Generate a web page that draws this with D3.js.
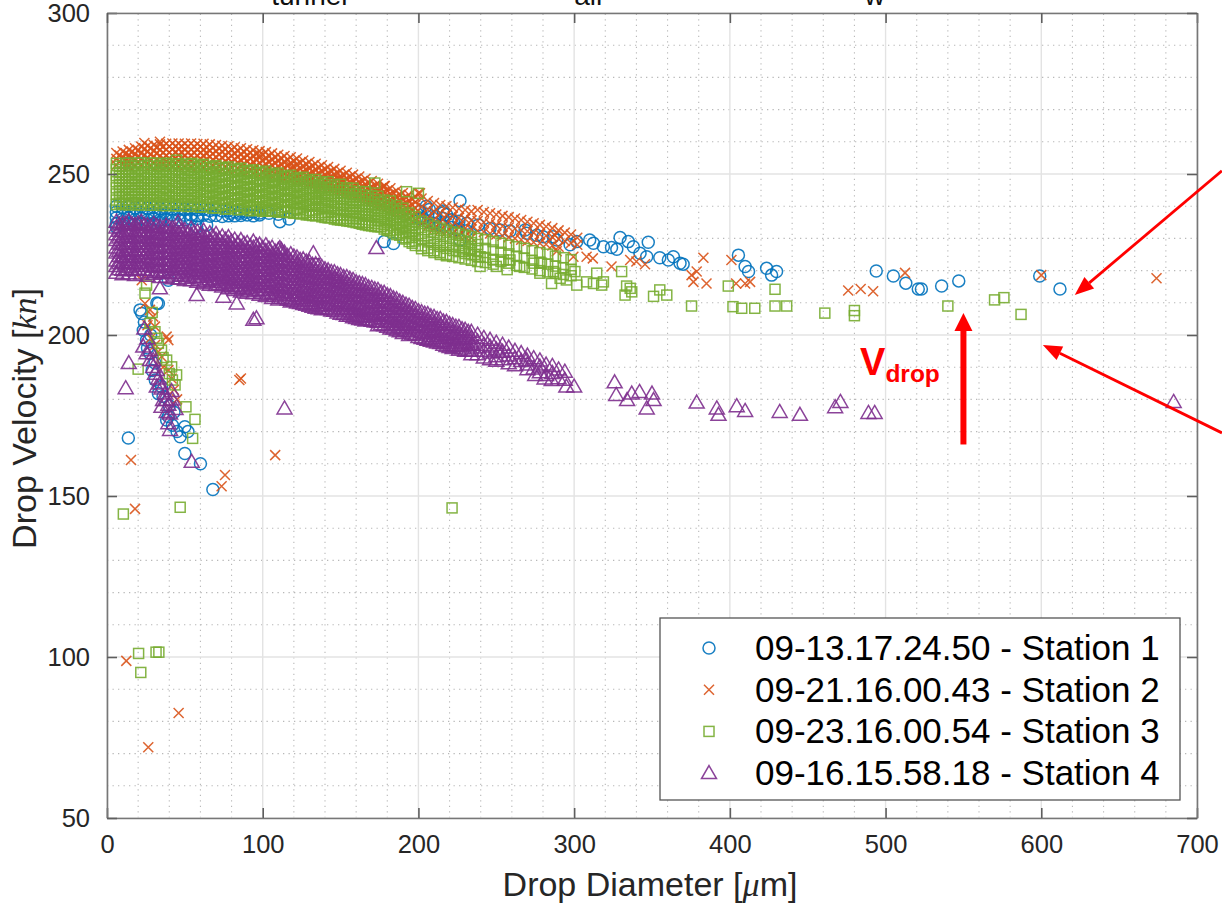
<!DOCTYPE html>
<html>
<head>
<meta charset="utf-8">
<script src="https://cdn.jsdelivr.net/npm/d3@7"></script>
<style>
  body { margin: 0; background: #fff; }
  svg { display: block; font-family: "Liberation Sans", Arial, Helvetica, sans-serif; }
</style>
</head>
<body>
<svg id="chart" width="1222" height="904"></svg>
<script>
// Chart geometry
const WIDTH = 1222;
const HEIGHT = 904;
const MARGIN = { left: 107, right: 25, top: 13, bottom: 86 };

const COLORS = ["#0072BD", "#D95319", "#77AC30", "#7E2F8E"];
const SHAPES = ["circle", "cross", "square", "triangle"];

// Tick values and labels
const xTicks = [0, 100, 200, 300, 400, 500, 600, 700];
const yTicks = [50, 100, 150, 200, 250, 300];
const legendLabels = [
  "09-13.17.24.50 - Station 1",
  "09-21.16.00.43 - Station 2",
  "09-23.16.00.54 - Station 3",
  "09-16.15.58.18 - Station 4"
];
const headerWords = [["tunnel", 130], ["air", 310], ["w", 493]];

// Dense bands: [diameter, velocity, velocity, ...]
const station1BandRows = [
  [6,240,238.2,236.4,234.6,233.5],[10,239.6,237.8,236,234.2],[14,240,238.1,236.3,234.5],
  [18,239.5,237.7,235.9,234.3],[22,239.8,238,236.2,234.6],[26,239.4,237.6,235.8,234.5],
  [30,239.6,237.8,236,234.8],[34,239.3,237.5,235.7,235],[38,239.4,237.6,235.8],
  [42,239.2,237.4,235.6],[46,239.3,237.5,235.8],[50,239,237.2,235.8],[54,239.1,237.3,236],
  [58,238.8,237,236.2],[62,239,237.2],[66,238.7,236.9],[70,238.8,237.1],[74,238.5,236.8],
  [78,238.6,237],[82,238.3,237],[86,238.4,237.1],[90,238.1,237.3],[94,238.2,237],
  [98,237.9,237.3],[104,237.8],[110,237.5],
  [201,238.4,236],[206,237.5,235.2],[211,236.8,234.5],[216,236.2,233.8],[221,235.8,233.4],
  [226,235.3,232.9],[231,234.7,232.4]
];
const station2BandRows = [
  [6,256.5,254.7,252.8],[10,257,255,253],[14,257.5,255.8,254,252.5],[18,258,256.2,254.3,252.6],
  [22,258.5,256.5,254.8,253],[26,258.8,257,255,253.2],[30,259,257.2,255.3,253.5],
  [34,259.2,257.5,255.6,253.8,252.5],[38,259.4,257.6,255.8,254,252.6],[42,259.5,257.6,255.7,253.9,252.5],
  [46,259.5,257.8,256,254.2,252.6],[50,259.4,257.5,255.6,253.8,252.5],[54,259.5,257.7,255.9,254,252.4],
  [58,259.3,257.5,255.6,253.7,252.2],[62,259.4,257.6,255.8,253.9,252.2],[66,259.2,257.3,255.4,253.5,252],
  [70,259,257.2,255.3,253.4,251.6],[74,258.8,257,255.1,253.2,251.5],[78,258.6,256.7,254.8,253,251.2],
  [82,258.3,256.5,254.6,252.7,251],[86,258,256.2,254.3,252.4,250.8],[90,257.7,255.8,254,252.1,250.6],
  [94,257.4,255.6,253.7,251.8,250.3],[98,257.1,255.2,253.4,251.5,250],[102,256.8,255,253.1,251.2,249.8],
  [106,256.4,254.5,252.7,250.8,249.5],[110,256,254.2,252.3,250.5,249.2],[114,255.6,253.7,251.9,250,248.8],
  [118,255.2,253.4,251.5,249.6,248.4],[122,254.8,253,251.1,249.2,248],[126,254.2,252.4,250.6,248.8,247.6],
  [130,253.7,251.9,250,248.2,247.2],[134,253.2,251.4,249.5,247.8,246.8],[138,252.7,250.9,249,247.3,246.3],
  [142,252.2,250.4,248.6,246.8,245.8],[146,251.6,249.8,248,246.2,245.3],[150,251,249.2,247.4,245.7,244.8],
  [154,250.4,248.6,246.8,245,244.2],[158,249.8,248,246.2,244.4,243.6],[162,249.2,247.4,245.6,243.8,243],
  [166,248.5,246.7,244.9,243.1,242.2],[170,247.8,246,244.2,242.4,241.5],[174,247,245.2,243.4,241.6,240.8],
  [178,246.3,244.5,242.7,240.9,240],[182,245.6,243.8,242,240.3,239],[186,244.8,243,241.2,239.5,238],
  [190,244.1,242.3,240.5,238.8,237.2],[194,243.5,241.7,239.9,238.1,236.4],[198,243,241.2,239.4,237.6,235.8],
  [202,242.4,239.8,237.2,234.6],[206,241.6,239,236.3,233.8],[210,241,238.4,235.7,233],
  [214,240.4,237.8,235,232.5],[218,240,237.3,234.6,232],[222,239.6,236.8,234,231.6],
  [226,239.2,236.4,233.6,231],[230,238.8,236,233.2,230.6],[234,238.4,235.6,232.8,230.2],
  [238,238.8,235.4,232.4],[242,238.2,235,232],[246,237.8,234.6,231.5],[250,237.4,234.2,231.2],
  [254,237,233.8,230.8],[258,236.6,233.4,230.4],[262,236.2,233,230],[266,235.7,232.6,229.6],
  [270,235.2,232.2,229.2],[274,234.7,231.8,228.8],[278,234.2,231.3,228.5],[282,233.7,230.8,228.2],
  [286,233.2,230.4,227.8],[290,232.5,229.8,227.4],[294,231.8,229.2],[298,231.2,228.6],[302,230.2,228]
];
const station2BandRowsInner = [
  [8,255.8,253.9],[12,256.4,254.5,252.7],[16,256.9,255,253.2],[20,257.4,255.4,253.5],
  [24,257.8,255.8,253.9],[28,258.1,256.1,254.2,252.5],[32,258.4,256.5,254.6,252.7],[36,258.5,256.6,254.7,252.9],
  [40,258.6,256.7,254.9,253],[44,258.7,256.8,254.9,253.1],[48,258.6,256.8,254.9,253],[52,258.6,256.7,254.8,253],
  [56,258.5,256.6,254.8,252.9],[60,258.5,256.6,254.7,252.8],[64,258.3,256.4,254.6,252.7],[68,258.1,256.2,254.4,252.5],
  [72,257.9,256,254.2,252.3],[76,257.7,255.8,254,252.1],[80,257.5,255.6,253.8,251.9],[84,257.2,255.3,253.5,251.7],
  [88,256.9,255,253.2,251.4],[92,256.6,254.8,252.9,251.1],[96,256.3,254.4,252.6,250.8],[100,256,254.1,252.3,250.5],
  [104,255.6,253.8,251.9,250.2],[108,255.2,253.4,251.6,249.8],[112,254.8,253,251.2,249.5],[116,254.4,252.6,250.8,249.1],
  [120,254,252.2,250.4,248.7],[124,253.5,251.7,249.9,248.2],[128,253,251.2,249.4,247.7],[132,252.5,250.7,248.9,247.2],
  [136,252,250.2,248.4,246.7],[140,251.5,249.7,247.9,246.2],[144,250.9,249.1,247.3,245.6],[148,250.3,248.5,246.7,245.1],
  [152,249.7,247.9,246.1,244.5],[156,249.1,247.3,245.5,243.9],[160,248.5,246.7,244.9,243.3],[164,247.8,246,244.2,242.6],
  [168,247.1,245.3,243.5,241.9],[172,246.4,244.6,242.8,241.2],[176,245.6,243.8,242,240.4],[180,244.9,243.1,241.3,239.6],
  [184,244.2,242.4,240.6,238.9],[188,243.5,241.7,239.9,238.1],[192,242.8,241,239.2,237.5],[196,242.2,240.4,238.6,236.8]
];
const station3BandRows = [
  [6,253.3,251.4,249.5,247.6,245.7,243.8,241.9,240.5],[10,252.4,250.5,248.6,246.7,244.8,242.9,241],
  [14,253.4,251.5,249.6,247.7,245.8,243.9,242,240.4],[18,252.5,250.6,248.7,246.8,244.9,243,241.1],
  [22,253.5,251.6,249.7,247.8,245.9,244,242.1,240.4],[26,252.6,250.7,248.8,246.9,245,243.1,241.2],
  [30,253.4,251.5,249.6,247.7,245.8,243.9,242,240.3],[34,252.5,250.6,248.7,246.8,244.9,243,241.1],
  [38,253.3,251.4,249.5,247.6,245.7,243.8,241.9,240.2],[42,252.4,250.5,248.6,246.7,244.8,242.9,241],
  [46,253.2,251.3,249.4,247.5,245.6,243.7,241.8,240.1],[50,252.3,250.4,248.5,246.6,244.7,242.8,240.9],
  [54,253.1,251.2,249.3,247.4,245.5,243.6,241.7,240],[58,252.2,250.3,248.4,246.5,244.6,242.7,240.8],
  [62,253,251.1,249.2,247.3,245.4,243.5,241.6,239.8],[66,252,250.1,248.2,246.3,244.4,242.5,240.6],
  [70,252.6,250.7,248.8,246.9,245,243.1,241.2,239.5],[74,251.8,249.9,248,246.1,244.2,242.3,240.4],
  [78,252.2,250.3,248.4,246.5,244.6,242.7,240.8,239.2],[82,251.4,249.5,247.6,245.7,243.8,241.9,240],
  [86,251.8,249.9,248,246.1,244.2,242.3,240.4,239],[90,251,249.1,247.2,245.3,243.4,241.5,239.6],
  [94,251.3,249.4,247.5,245.6,243.7,241.8,239.9,238.7],[98,250.5,248.6,246.7,244.8,242.9,241,239.1],
  [102,250.9,249,247.1,245.2,243.3,241.4,239.5,238.5],[106,250,248.1,246.2,244.3,242.4,240.5,238.6],
  [110,250.3,248.4,246.5,244.6,242.7,240.8,238.9,238.2],[114,249.4,247.5,245.6,243.7,241.8,239.9,238.2],
  [118,249.6,247.7,245.8,243.9,242,240.1,238.2],[122,248.8,246.9,245,243.1,241.2,239.3,237.9],
  [126,249,247.1,245.2,243.3,241.4,239.5,237.7],[130,248.2,246.3,244.4,242.5,240.6,238.7,237.3],
  [134,248.3,246.4,244.5,242.6,240.7,238.8,237],[138,247.5,245.6,243.7,241.8,239.9,238,236.7],
  [142,247.6,245.7,243.8,241.9,240,238.1,236.4],[146,246.6,244.7,242.8,240.9,239,237.1,236],
  [150,246.8,244.9,243,241.1,239.2,237.3,235.7],[154,245.7,243.8,241.9,240,238.1,236.2,235.4],
  [158,245.6,243.7,241.8,239.9,238,236.1,235.1],[162,244.6,242.7,240.8,238.9,237,235.1,234.7],
  [166,244.5,242.6,240.7,238.8,236.9,235,234.2],[170,243.3,241.4,239.5,237.6,235.7,233.9],
  [174,243.1,241.2,239.3,237.4,235.5,233.6],[178,241.9,240,238.1,236.2,234.3,232.9],
  [182,241.6,239.7,237.8,235.9,234,232.3],[186,240.2,238.3,236.4,234.5,232.6,231.2],
  [190,239.4,237.5,235.6,233.7,231.8,230.2],[194,237.9,236,234.1,232.2,230.3,229],
  [198,236.8,234.9,233,231.1,229.2,227.8],[202,235.3,233.4,231.5,229.6,227.7,226.8],
  [206,234.6,232.7,230.8,228.9,227,226.2],[210,233.8,231.9,230,228.1,226.2,225.6],
  [214,233.2,231.3,229.4,227.5,225.6,225],[218,232.6,230.7,228.8,226.9,225,224.6],
  [222,232,230.1,228.2,226.3,224.4],[226,231.6,229.7,227.8,225.9,224],[230,231,229.1,227.2,225.3,223.6],
  [234,230.6,228.7,226.8,224.9,223.2],[238,230,228.1,226.2,224.3,222.8],[243,229.6,226.9,224.1,222.5],
  [248,229,226.4,223.5,222],[253,228.5,225.7,222.8],[258,227.9,225.2,222.3],[263,227.4,224.5,221.6],
  [268,226.9,223.9,221],[273,226.2,223.2,220.5],[278,225.6,222.6,220],[283,225.1,222,219.6],
  [288,224.5,221.4,219.2],[293,224,220.9,218.8],[298,223.4,220.4,218.4]
];
const station3BandRowsInner = [
  [8,252.4,250.5,248.6,246.7,244.8,242.9,241],[12,253.3,251.4,249.5,247.6,245.7,243.8,241.9,240.5],
  [16,252.5,250.6,248.7,246.8,244.9,243,241.1],[20,253.4,251.5,249.6,247.7,245.8,243.9,242,240.4],
  [24,252.5,250.6,248.7,246.8,244.9,243,241.1],[28,253.3,251.4,249.5,247.6,245.7,243.8,241.9,240.3],
  [32,252.4,250.5,248.6,246.7,244.8,242.9,241],[36,253.2,251.3,249.4,247.5,245.6,243.7,241.8,240.2],
  [40,252.3,250.4,248.5,246.6,244.7,242.8,240.9],[44,253.1,251.2,249.3,247.4,245.5,243.6,241.7,240.1],
  [48,252.2,250.3,248.4,246.5,244.6,242.7,240.8],[52,253,251.1,249.2,247.3,245.4,243.5,241.6,239.9],
  [56,252.1,250.2,248.3,246.4,244.5,242.6,240.7],[60,252.7,250.8,248.9,247,245.1,243.2,241.3,239.7],
  [64,251.9,250,248.1,246.2,244.3,242.4,240.5],[68,252.3,250.4,248.5,246.6,244.7,242.8,240.9,239.4],
  [72,251.6,249.7,247.8,245.9,244,242.1,240.2],[76,251.9,250,248.1,246.2,244.3,242.4,240.5,239.1],
  [80,251.2,249.3,247.4,245.5,243.6,241.7,239.8],[84,251.4,249.5,247.6,245.7,243.8,241.9,240,238.9],
  [88,250.7,248.8,246.9,245,243.1,241.2,239.3],[92,250.9,249,247.1,245.2,243.3,241.4,239.5,238.6],
  [96,250.2,248.3,246.4,244.5,242.6,240.7,238.8],[100,250.4,248.5,246.6,244.7,242.8,240.9,239,238.4],
  [104,249.6,247.7,245.8,243.9,242,240.1,238.5],[108,249.8,247.9,246,244.1,242.2,240.3,238.4],
  [112,249,247.1,245.2,243.3,241.4,239.5,238.2],[116,249.1,247.2,245.3,243.4,241.5,239.6,238],
  [120,248.3,246.4,244.5,242.6,240.7,238.8,237.8],[124,248.4,246.5,244.6,242.7,240.8,238.9,237.6],
  [128,247.6,245.7,243.8,241.9,240,238.1,237.3],[132,247.6,245.7,243.8,241.9,240,238.1,237.1],
  [136,246.8,244.9,243,241.1,239.2,237.3],[140,246.8,244.9,243,241.1,239.2,237.3,236.5],
  [144,245.9,244,242.1,240.2,238.3,236.4],[148,245.8,243.9,242,240.1,238.2,236.3,235.8],
  [152,244.9,243,241.1,239.2,237.3,235.6],[156,244.7,242.8,240.9,239,237.1,235.3],
  [160,243.8,241.9,240,238.1,236.2,234.9],[164,243.5,241.6,239.7,237.8,235.9,234.4],
  [168,242.5,240.6,238.7,236.8,234.9,234],[172,242.2,240.3,238.4,236.5,234.6,233.7],
  [176,241.2,239.3,237.4,235.5,233.6],[180,240.6,238.7,236.8,234.9,233,232.5],
  [184,239.2,237.3,235.4,233.5,231.7],[188,238.6,236.7,234.8,232.9,231],
  [192,237.2,235.3,233.4,231.5,229.8],[196,236,234.1,232.2,230.3,228.5]
];
const station4BandRows = [
  [6,235.2,233.4,231.3,229.5,227.2,225.6,223.1,221.4,219.3],[10,234.6,232.3,230.6,228.2,226.5,224.2,222.6,220.3,218.9],
  [14,235.4,233.1,231.5,229.1,227.4,225.2,223.4,221.1,219.2],[18,234.2,232.2,230.4,228.4,226.1,224.5,222.2,220.4,218.6],
  [22,235.1,233.4,231.1,229.2,227.5,225.3,223.1,221.5,219.1],[26,234.1,232.1,230.2,228.5,226.4,224.1,222.5,220.2,218.4],
  [30,234.5,232.6,230.4,229,227,225.1,223,221.2,219],[34,233.6,231.5,229.6,227.4,225.6,223.5,221.4,219.6,218],
  [38,234,232.1,230,228.1,226,224.1,222,220.1,218.1],[42,233.2,231.1,229.5,227.4,225.2,223.1,221.1,219.4,217.6],
  [46,233.4,231.6,229.1,227.1,225.5,223.6,221.5,219.2,217.5],[50,232.6,230.5,228.6,226.4,224.6,222.5,220.6,218.5,217.1],
  [54,233,231.1,229,227.1,225,223.1,221,219.1,217],[58,232.1,230.1,228.1,226.1,224.1,222.1,220.1,218.1,216.5],
  [62,232.4,230.5,228.4,226.6,224.4,222.1,220.1,218.1,216.1],[66,231.6,229.5,227.6,225.4,223.6,221.5,219.6,217.4,215.6],
  [70,231.4,229.6,227.1,225.1,223.1,221.1,219.1,217.1,215.5],[74,230.6,228.5,226.6,224.4,222.6,220.4,218.6,216.5,215.1],
  [78,230.4,228.6,226.1,224.1,222.1,220.1,218.1,216.1,214.5],[82,229.6,227.5,225.6,223.5,221.4,219.6,217.5,215.4,214],
  [86,229.5,227.4,225.6,223.1,221.1,219.1,217.1,215.1,213.5],[90,228.6,226.6,224.4,222.6,220.5,218.4,216.6,214.5,213.1],
  [94,229,227.1,225,223.1,221,219.1,217,215.1,213],[98,228.1,226,224.1,222,220.1,218,216.1,214,212.5],
  [102,227.9,226.1,224,222.1,220,218.1,216,214.1,212.1],[106,227.1,225,223.1,221,219.1,217,215.1,213,211.5],
  [110,226.5,224.6,222.4,220.5,218.6,216.4,214.5,212.6,211],[114,225.6,223.5,221.6,219.4,217.5,215.6,213.4,211.5],
  [118,225.1,223,221.1,219,217.1,215,213.1,211,210.4],[122,224.1,222.1,220,218.1,216,214.1,212,210.1],
  [126,223.5,221.4,219.6,217.5,215.4,213.6,211.5,209.6],[130,222.6,220.5,218.4,216.6,214.5,212.4,210.6,209.1],
  [134,222,220.1,218,216.1,214,212.1,210,208.5],[138,221.1,219,217.1,215,213.1,211,209.1,208],
  [142,220.1,218,216.1,214,212.1,210,208.1],[146,219.5,217.6,215.4,213.5,211.6,209.4,207.5],
  [150,218.6,216.5,214.4,212.6,210.5,208.4,206.6],[154,218,216.1,214,212.1,210,208.1,206],
  [158,217.1,215,213.1,211,209.1,207,205.5],[162,216.1,214,212.1,210,208.1,206,205],
  [166,215.5,213.4,211.6,209.5,207.4,205.6,204.5],[170,214.6,212.5,210.4,208.6,206.5,204.4],
  [174,214,212.1,210,208.1,206,204.1,203],[178,213.1,211,209.1,207,205.1,203],
  [182,212.1,210,208.1,206,204.1,202],[186,211.1,209,207.1,205,203.1,201.5],
  [190,210,208.1,206,204.1,202,200.6],[194,209.1,207,205.1,203,201.1,200],
  [198,208.1,206,204.1,202,200.1],[202,207.1,205,203.1,201,199.1],[206,206.5,204.4,202.6,200.5,198.6],
  [210,205.6,203.5,201.4,199.6,198],[214,205,203.1,201,199.1,197.5],[218,204.1,202,200.1,198,196.6],
  [222,203.1,201,199.1,197,196],[226,202.5,200.4,198.6,196.5,195.4],[230,201.6,199.5,197.4,195.1],
  [234,201,199.1,197,195.1,194],[238,200.1,198,196.1,194],[242,199.1,197,195.1,193],
  [246,198.5,196.4,194.6,192.5],[250,197.6,195.5,193.4,192],[254,197,194.8,192.5],
  [258,196.1,193.6,191.2],[262,195.1,192.8,190.6],[266,194.4,191.9],[270,193.6,190.8,189.4],
  [274,192.8,189.6],[278,192.1,190.2,188.4],[282,190.8,187.6],[286,190.4,188.2],[290,189.3,186.6],
  [294,188.6,186.1]
];
const station4BandRowsInner = [
  [8,234.3,232.4,230.3,228.4,226.2,224.5,222.3,220.4],[12,234.6,232.2,230.4,228.3,226.5,224.3,222.2,220.1],
  [16,234.4,232.5,230.2,228.4,226.3,224.2,222.4,220.2],[20,234.7,232.6,230.6,228.5,226.6,224.5,222.4,220.5],
  [24,234.2,232.3,230.3,228.2,226.3,224.2,222.2,220.3],[28,233.6,231.5,229.5,227.6,225.5,223.6,221.5,219.6],
  [32,233.8,231.7,229.8,227.7,225.6,223.7,221.6,219.7],[36,233.2,231.2,229.2,227.2,225.2,223.2,221.2,219.2],
  [40,233.4,231.3,229.3,227.3,225.3,223.3,221.3,219.3],[44,232.6,230.5,228.6,226.5,224.6,222.5,220.6,218.5],
  [48,232.4,230.4,228.4,226.4,224.4,222.4,220.4,218.4],[52,231.7,229.6,227.6,225.7,223.6,221.6,219.7,217.8],
  [56,231.9,229.9,227.9,225.9,223.9,221.9,219.9,217.9],[60,231.2,229.2,227.2,225.2,223.2,221.2,219.2,217.2],
  [64,230.8,228.8,226.8,224.8,222.8,220.8,218.8,216.8],[68,230.6,228.5,226.5,224.5,222.5,220.5,218.5,216.5],
  [72,229.7,227.7,225.7,223.7,221.7,219.7,217.7,215.9],[76,229.6,227.6,225.6,223.6,221.6,219.6,217.6,215.6],
  [80,229,227,225,223,221,219,217,215.2],[84,228.4,226.4,224.4,222.4,220.4,218.4,216.4,214.6],
  [88,228.3,226.3,224.3,222.3,220.3,218.3,216.3,214.3],[92,227.6,225.6,223.6,221.6,219.6,217.6,215.6,213.8],
  [96,227.8,225.8,223.8,221.8,219.8,217.8,215.8,213.8],[100,227,225,223,221,219,217,215,213.2],
  [104,226.8,224.8,222.8,220.8,218.8,216.8,214.8,212.8],[108,225.9,223.9,221.9,219.9,217.9,215.9,213.9,212.2],
  [112,225.4,223.4,221.4,219.4,217.4,215.4,213.4,211.6],[116,224.5,222.5,220.5,218.5,216.5,214.5,212.5,211],
  [120,224.4,222.4,220.4,218.4,216.4,214.4,212.4,210.6],[124,223.3,221.3,219.3,217.3,215.3,213.3,211.3,209.9],
  [128,222.8,220.8,218.8,216.8,214.8,212.8,210.8,209.4],[132,221.8,219.8,217.8,215.8,213.8,211.8,209.8,208.8],
  [136,221.4,219.4,217.4,215.4,213.4,211.4,209.4,208.3],[140,220.4,218.4,216.4,214.4,212.4,210.4,208.4],
  [144,219.6,217.6,215.6,213.6,211.6,209.6,207.6],[148,218.9,216.9,214.9,212.9,210.9,208.9,207],
  [152,218,216,214,212,210,208,206.5],[156,217.4,215.4,213.4,211.4,209.4,207.4,206],
  [160,216.4,214.4,212.4,210.4,208.4,206.4,205.3],[164,215.8,213.8,211.8,209.8,207.8,205.8,204.8],
  [168,214.8,212.8,210.8,208.8,206.8,204.8],[172,214.2,212.2,210.2,208.2,206.2,204.2],
  [176,213.2,211.2,209.2,207.2,205.2,203.4],[180,212.4,210.4,208.4,206.4,204.4,202.6],
  [184,211.4,209.4,207.4,205.4,203.4,202],[188,210.4,208.4,206.4,204.4,202.4,201.2],
  [192,209.4,207.4,205.4,203.4,201.4],[196,208.4,206.4,204.4,202.4,200.4],
  [200,207.4,205.4,203.4,201.4,199.4],[204,206.6,204.6,202.6,200.6,198.8],
  [208,205.8,203.8,201.8,199.8,198.2],[212,205,203,201,199,197.7],[216,204.2,202.2,200.2,198.2,197],
  [220,203.4,201.4,199.4,197.4,196.3],[224,202.6,200.6,198.6,196.6],[228,201.8,199.8,197.8,195.8],
  [232,201,199,197,195.2]
];

// Scattered points: [diameter, velocity]
const station1Points = [
  [205,240],[207,239],[216,238.5],[218,237.4],[203,236.3],[210,234.7],[214,234.2],[222.5,235.2],
  [224.5,232.6],[226.7,229.5],[226.7,241.7],[216,238],[238.5,234.2],[246,233.1],[252.4,232.6],
  [258.8,232.3],[268.5,232.6],[269.5,231.6],[276,231],[280,230.5],[286.6,230.5],[288.8,229.5],
  [297.4,228],[301.7,229],[310,229.5],[312.4,228.5],[318.8,227.4],[324,227.2],[327.4,226.6],
  [329.5,230.3],[334.8,229],[338,227.4],[342.3,225.4],[347.6,228.8],[346.6,224.3],[355,224],
  [360.5,223.3],[363.7,224.3],[368,222.3],[370,222],[405.5,224.8],[409.8,221.3],[412,219.7],
  [423.6,220.7],[426.8,218.6],[430,219.7],[494,219.9],[505,218.3],[513,216.1],[521,214.3],
  [523,214.3],[536,215.2],[547,216.8],[599,218.3],[612,214.3],
  [57.6,233.6],[64,234.2],[79,237.8],[85.4,237.8],[111,235.2],[117,236],[178,229],[184,228.4],
  [21.2,207.8],[22.3,206.7],[23.3,201.5],[25.4,198.4],[27.6,194.3],[30.8,191.3],[33,209.8],
  [32,209.9],[39.4,217],[33,181.8],[36,180.9],[39.4,174.7],[38.3,173.6],[47,168.4],[50,171.5],
  [52,170],[50,163.2],[60,160],[68,152],[13.7,168],[24,204],[26,196],[29,189],[31,186],[35,184],
  [40,178],[43,176],[42,172],[28,200],[45,170]
];
const station2Points = [
  [24,259.6],[34,260],[98,256],[118.6,252.2],[126,250.7],[145.4,248.1],[149.6,248.1],[177.5,246],
  [200,244],[178.5,246.3],[201,244],[287.7,231],[288.8,226],[299.5,224.3],[308,224.3],[312,223.8],
  [324,221.3],[336,223.3],[340,222.8],[345.5,222],[375.4,218.6],[378.7,219.7],[385,216],
  [376.6,216.5],[383,224],[401,223.3],[404,216],[409.8,216],[413,216.5],[476,213.8],[484,214.3],
  [492,213.6],[512.5,219.3],[600,218.6],[674,217.6],
  [22.3,217],[24.4,209.8],[27.6,207.8],[29.7,205.7],[30.8,202.6],[38.3,199.5],[39.4,198.4],
  [33,194.8],[35,193.3],[39.4,189.1],[41.5,186.5],[26,203],[28,199],[31,197],[36,190],[43,183],
  [45,180],[15.4,161.2],[108,162.7],[85,186],[86,186.5],[75.8,156.5],[73.6,153],[18,146],
  [12.4,98.8],[26.5,72],[46,82.6]
];
const station3Points = [
  [44.7,254.3],[54.5,253.3],[38.3,253.3],[106.8,248.1],[117.6,245],[136.8,246],[134.6,242.4],
  [172,247.2],[192.4,244.5],[200,244],
  [229,226],[233,226.5],[236,225],[239.6,224.3],[239.6,221.3],[248,223.3],[254.5,223.3],
  [258.8,223.3],[250,221.3],[257,220.3],[265,221.3],[274,222.3],[279,222.3],[278,219.2],
  [286.7,219.7],[291,217.6],[295,217.1],[285.5,216],[300.5,219.7],[301.7,215.5],[308,216.5],
  [314.5,219.2],[312.4,216],[318.8,216.5],[317.7,215.5],[330.5,219.7],[333.7,215.2],[336,214.5],
  [332.7,212.4],[337,213.4],[351,212],[355,214],[359.5,212.4],[375.4,209],[402,208.8],
  [407.6,208.3],[416,208.3],[399,215.2],[429,214.2],[429,209],[436.5,209],[461,206.8],[480,206],
  [480,207.6],[540,209],[570,210.9],[576,211.6],[587,206.4],
  [25.4,215.5],[24.4,213],[27.6,203.6],[30.8,201],[33,197.4],[35,195.3],[38.3,192.2],[41.5,190.1],
  [44.7,187.6],[43.7,184.5],[20,189.4],[50.7,177.7],[56.5,173.8],[55,167.9],[29,207],[32,199],
  [36,193],[40,188],[42,186],
  [47,146.5],[10.5,144.4],[221.6,146.3],[20.3,101.1],[21.7,95.2],[31.5,101.5],[33.3,101.5]
];
const station4Points = [
  [75.8,227.3],[112,226.4],[45.6,235],[132.5,225.4],[141,219.2],[147.5,217.1],[111,227],
  [105.8,223.3],[106.8,221.2],[173,227],[156,209.8],[173,208.8],
  [34,214.5],[57.6,212.4],[74.7,211.9],[83.3,209.8],[94,204.7],[96,205.2],
  [206,198.5],[235,196.9],[252,194.8],[269.5,192.2],[275,187.6],[281,186.5],[285.6,186],
  [295,184],[300,184],[326,185.3],[327,181.4],[334,179.8],[337,181.8],[342,182.3],[350,181.8],
  [351,179.8],[346.6,177.2],[378.7,179],[391.6,177.2],[392.7,175.2],[404.4,177.9],[409.8,176.4],
  [432,176.1],[445,175.2],[467.6,177.6],[471,179.2],[489,175.8],[493,175.8],[685,179.2],
  [23.3,196.4],[25.4,194.3],[27.6,192.2],[29.7,190.1],[30.8,188],[33,186.5],[34,184.9],
  [35,183.4],[37.3,181.8],[38.3,179.8],[39.4,178.3],[35,177.7],[41.5,182.6],[40.5,175.6],
  [38.3,176.1],[36,179.8],[31.9,189.1],[29.7,192.2],[27.6,195.3],[39.4,172.6],[40.5,170.5],
  [42,180],[44,177],[32,184],[26,199],[24,202],
  [14,191.3],[12,183.5],[114,177.2],[54.4,160.6]
];

// Annotation anchors in data units
const upArrow = { d: 550, from: 166, to: 206.8 };
const pointerArrows = [
  { from: [716, 251], to: [621.5, 212.4] },
  { from: [716, 169.6], to: [601, 196.9] }
];
const vdropLabel = { d: 483.6, v: 187.6 };

const xScale = d3.scaleLinear().domain([0, 700]).range([MARGIN.left, WIDTH - MARGIN.right]);
const yScale = d3.scaleLinear().domain([50, 300]).range([HEIGHT - MARGIN.bottom, MARGIN.top]);

const svg = d3.select("#chart");

/**
 * Turns band rows [d, v, v, ...] into a flat list of [d, v] points.
 */
function expandRows (rows) {
  return rows.flatMap(r => r.slice(1).map(v => [r[0], v]));
}

/**
 * Appends one marker of the given shape to a selection of g elements.
 */
function drawMarker (sel, shape, color) {
  if (shape === "circle") {
    sel.append("circle").attr("r", 6);
  } else if (shape === "cross") {
    sel.append("path").attr("d", "M-5,-5L5,5M-5,5L5,-5");
  } else if (shape === "square") {
    sel.append("rect").attr("x", -5).attr("y", -5).attr("width", 10).attr("height", 10);
  } else {
    sel.append("path").attr("d", "M0,-7.5L7.5,5.5L-7.5,5.5Z");
  }
  sel.selectAll("*")
    .attr("fill", "none")
    .attr("stroke", color)
    .attr("stroke-width", 1.5)
    .attr("stroke-opacity", 0.9);
}

// Grid: minor dotted, major solid
const grid = svg.append("g");
const xMinor = d3.range(0, 701, 20).filter(t => t % 100 !== 0);
const yMinor = d3.range(50, 301, 10).filter(t => t % 50 !== 0);
grid.selectAll(".xminor").data(xMinor).enter().append("line")
  .attr("x1", d => xScale(d)).attr("x2", d => xScale(d))
  .attr("y1", yScale(50)).attr("y2", yScale(300));
grid.selectAll(".yminor").data(yMinor).enter().append("line")
  .attr("x1", xScale(0)).attr("x2", xScale(700))
  .attr("y1", d => yScale(d)).attr("y2", d => yScale(d));
grid.selectAll("line")
  .attr("stroke", "#b8b8b8").attr("stroke-width", 1.1).attr("stroke-dasharray", "1.3,4.2");
const gridMajor = svg.append("g");
gridMajor.selectAll(".xmajor").data(xTicks).enter().append("line")
  .attr("x1", d => xScale(d)).attr("x2", d => xScale(d))
  .attr("y1", yScale(50)).attr("y2", yScale(300));
gridMajor.selectAll(".ymajor").data(yTicks).enter().append("line")
  .attr("x1", xScale(0)).attr("x2", xScale(700))
  .attr("y1", d => yScale(d)).attr("y2", d => yScale(d));
gridMajor.selectAll("line").attr("stroke", "#e3e3e3").attr("stroke-width", 1.4);

// Data markers, drawn in series order
const series = [
  station1Points.concat(expandRows(station1BandRows)),
  expandRows(station2BandRows).concat(expandRows(station2BandRowsInner), station2Points),
  expandRows(station3BandRows).concat(expandRows(station3BandRowsInner), station3Points),
  expandRows(station4BandRows).concat(expandRows(station4BandRowsInner), station4Points)
];
series.forEach((pts, i) => {
  const g = svg.append("g").classed("series-" + (i + 1), true);
  const marks = g.selectAll("g").data(pts).enter().append("g")
    .attr("transform", d => `translate(${xScale(d[0])},${yScale(d[1])})`);
  drawMarker(marks, SHAPES[i], COLORS[i]);
});

// Axes with inward ticks on all four sides
const axisColor = "#5e5e5e";
const gx = svg.append("g").attr("transform", `translate(0,${yScale(50)})`)
  .call(d3.axisBottom(xScale).tickValues(xTicks).tickSizeInner(-10).tickSizeOuter(0).tickPadding(17));
const gy = svg.append("g").attr("transform", `translate(${xScale(0)},0)`)
  .call(d3.axisLeft(yScale).tickValues(yTicks).tickSizeInner(-10).tickSizeOuter(0).tickPadding(17));
const gt = svg.append("g").attr("transform", `translate(0,${yScale(300)})`)
  .call(d3.axisTop(xScale).tickValues(xTicks).tickSizeInner(-10).tickSizeOuter(0).tickFormat(""));
const gr = svg.append("g").attr("transform", `translate(${xScale(700)},0)`)
  .call(d3.axisRight(yScale).tickValues(yTicks).tickSizeInner(-10).tickSizeOuter(0).tickFormat(""));
[gx, gy, gt, gr].forEach(g => {
  g.select(".domain").attr("stroke", "#777").attr("stroke-width", 1.6);
  g.selectAll(".tick line").attr("stroke", axisColor).attr("stroke-width", 1.6);
  g.selectAll(".tick text").attr("fill", "#262626").attr("font-size", 25.5)
    .attr("font-family", "'Liberation Sans', Arial, sans-serif");
});

// Axis titles
svg.append("text")
  .attr("x", (xScale(0) + xScale(700)) / 2 - 2).attr("y", 896)
  .attr("text-anchor", "middle").attr("font-size", 34).attr("fill", "#262626")
  .html('Drop Diameter [<tspan font-style="italic" font-family="\'Liberation Serif\', serif">μ</tspan>m]');
svg.append("text")
  .attr("transform", `translate(36,${(yScale(50) + yScale(300)) / 2 + 3}) rotate(-90)`)
  .attr("text-anchor", "middle").attr("font-size", 34).attr("fill", "#262626")
  .html('Drop Velocity [<tspan font-style="italic" font-family="\'Liberation Serif\', serif">kn</tspan>]');

// Clipped words above the axes, as in the source figure
svg.selectAll(".header").data(headerWords).enter().append("text")
  .attr("x", d => xScale(d[1])).attr("y", 4.5)
  .attr("text-anchor", "middle").attr("font-size", 28).attr("fill", "#111")
  .text(d => d[0]);

// Legend
const legend = svg.append("g").attr("transform", "translate(660,618)");
legend.append("rect").attr("width", 520).attr("height", 182)
  .attr("fill", "#fff").attr("stroke", "#555").attr("stroke-width", 1.3);
const rows = legend.selectAll(".entry").data(legendLabels).enter().append("g")
  .attr("transform", (d, i) => `translate(0,${30 + i * 41.7})`);
rows.each(function (d, i) {
  const m = d3.select(this).append("g").attr("transform", "translate(49,0)");
  drawMarker(m, SHAPES[i], COLORS[i]);
});
rows.append("text").attr("x", 95).attr("y", 12).attr("font-size", 35).attr("fill", "#000").text(d => d);

// Red annotations
const red = "#ff0000";
const ann = svg.append("g");
const ax = xScale(upArrow.d), ay0 = yScale(upArrow.from), ay1 = yScale(upArrow.to);
ann.append("line").attr("x1", ax).attr("x2", ax).attr("y1", ay0).attr("y2", ay1 + 16)
  .attr("stroke", red).attr("stroke-width", 6);
ann.append("path")
  .attr("d", `M${ax},${ay1}L${ax + 9},${ay1 + 18}L${ax - 9},${ay1 + 18}Z`).attr("fill", red);

pointerArrows.forEach(a => {
  const x0 = xScale(a.from[0]), y0 = yScale(a.from[1]);
  const x1 = xScale(a.to[0]), y1 = yScale(a.to[1]);
  const ang = Math.atan2(y1 - y0, x1 - x0);
  const len = 19, half = 7.5;
  const bx = x1 - len * Math.cos(ang), by = y1 - len * Math.sin(ang);
  ann.append("line").attr("x1", x0).attr("y1", y0).attr("x2", bx).attr("y2", by)
    .attr("stroke", red).attr("stroke-width", 2.8);
  ann.append("path")
    .attr("d", `M${x1},${y1}L${bx - half * Math.sin(ang)},${by + half * Math.cos(ang)}` +
      `L${bx + half * Math.sin(ang)},${by - half * Math.cos(ang)}Z`)
    .attr("fill", red);
});

ann.append("text")
  .attr("x", xScale(vdropLabel.d)).attr("y", yScale(vdropLabel.v))
  .attr("fill", red).attr("font-weight", "bold")
  .html('<tspan font-size="38">V</tspan><tspan font-size="24.5" dy="7">drop</tspan>');
</script>
</body>
</html>
